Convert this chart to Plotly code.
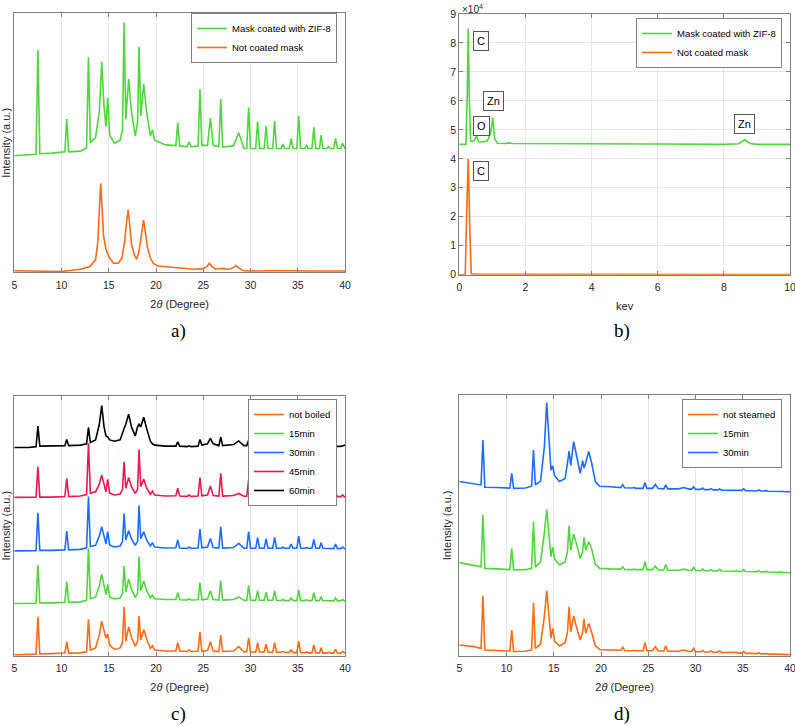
import plotly.graph_objects as go

# ---------------- data ----------------
# shared 2-theta sampling (degrees) for the ZIF-8 XRD patterns
TWO_THETA = [
    5.0, 6.5, 7.3, 7.5, 7.7, 9.0, 10.35, 10.55, 10.75, 12.0,
    12.65, 12.85, 13.05, 13.6, 14.0, 14.25, 14.5, 14.7, 14.88, 15.1,
    15.6, 16.2, 16.45, 16.62, 16.8, 17.1, 17.4, 17.8, 18.05, 18.2,
    18.38, 18.7, 19.0, 19.4, 19.62, 19.85, 21.0, 22.1, 22.3, 22.5,
    23.3, 23.5, 23.7, 24.45, 24.65, 24.85, 25.45, 25.75, 26.05, 26.65,
    26.85, 27.05, 28.2, 28.75, 29.3, 29.6, 29.8, 30.0, 30.55, 30.75,
    30.95, 31.45, 31.65, 31.85, 32.35, 32.55, 32.75, 33.25, 33.42, 33.6,
    34.1, 34.3, 34.5, 34.9, 35.1, 35.3, 35.75, 35.92, 36.1, 36.5,
    36.7, 36.9, 37.3, 37.47, 37.65, 38.05, 38.25, 38.45, 38.8, 39.0,
    39.2, 39.55, 39.75, 40.0]

# a) XRD, mask coated with ZIF-8 (offset, a.u.)
A_COATED = [
    45.0, 45.3, 45.6, 85.8, 45.8, 46.0, 46.5, 59.2, 46.5, 46.8,
    48.0, 83.0, 50.0, 52.0, 62.0, 81.3, 64.0, 56.2, 67.4, 53.0,
    49.8, 51.0, 55.0, 96.4, 59.0, 74.6, 62.0, 52.6, 58.0, 87.1,
    60.4, 72.7, 62.0, 52.6, 55.0, 51.0, 49.2, 48.9, 57.8, 48.8,
    48.5, 50.4, 48.5, 48.8, 70.7, 49.0, 49.0, 59.5, 49.0, 48.5,
    66.9, 48.3, 48.8, 53.9, 47.8, 47.8, 63.6, 47.8, 47.8, 58.2,
    47.8, 47.8, 56.6, 47.8, 47.8, 58.4, 47.8, 47.8, 49.5, 47.8,
    47.8, 51.7, 47.8, 47.8, 60.4, 47.8, 47.8, 48.9, 47.8, 47.8,
    56.0, 47.8, 47.8, 53.0, 47.8, 47.8, 48.5, 47.8, 47.8, 51.7,
    47.8, 47.8, 49.8, 47.6]

# a) XRD, not coated mask
A_UNCOATED_2THETA = [
    5, 8, 10, 12, 13, 13.6, 13.85, 14.0, 14.15, 14.3,
    14.45, 14.7, 15.0, 15.5, 16.0, 16.4, 16.7, 16.9, 17.05, 17.2,
    17.4, 17.7, 17.95, 18.2, 18.4, 18.55, 18.68, 18.85, 19.1, 19.4,
    19.7, 20.2, 22, 24, 25.0, 25.4, 25.65, 25.9, 26.3, 27.0,
    27.2, 27.45, 27.9, 28.25, 28.45, 28.7, 29.2, 30, 33, 36, 40]
A_UNCOATED = [
    0.6, 0.4, 0.3, 1.2, 2.2, 4.8, 12.0, 24.0, 34.4, 24.0,
    14.0, 9.0, 6.0, 3.5, 3.5, 5.5, 12.5, 20.0, 24.1, 19.0,
    11.0, 6.7, 5.0, 8.0, 14.0, 18.5, 20.2, 16.0, 9.5, 5.5,
    3.5, 2.4, 1.8, 1.2, 1.4, 2.3, 3.5, 2.3, 1.3, 1.3,
    1.5, 1.2, 1.4, 2.0, 2.6, 1.8, 0.7, 0.5, 0.7, 0.5, 0.5]

# b) EDS spectra (counts)
EDS_KEV_COATED = [0.0, 0.2, 0.24, 0.27, 0.3, 0.34, 0.4, 0.45, 0.52, 0.58,
                  0.7, 0.85, 0.95, 1.01, 1.07, 1.15, 1.4, 1.5, 1.6, 2.0,
                  4.0, 6.0, 8.0, 8.45, 8.63, 8.8, 9.0, 9.4, 9.57, 9.75, 10.0]
EDS_COATED = [45000, 45000, 62000, 85000, 62000, 46200, 46000, 46300, 48000, 45900,
              45800, 46200, 49000, 54200, 47000, 45400, 45300, 45500, 45300, 45300,
              45200, 45100, 45000, 45200, 46600, 45300, 45000, 45000, 45200, 45000, 45000]
EDS_KEV_UNCOATED = [0.0, 0.18, 0.22, 0.27, 0.32, 0.36, 0.5, 1.0, 2.0, 10.0]
EDS_UNCOATED = [0, 0, 20000, 40000, 15000, 300, 200, 150, 100, 50]
EDS_LABELS = ["C", "Zn", "O", "Zn", "C"]
EDS_LABEL_KEV = [0.665, 1.02, 0.665, 8.62, 0.655]
EDS_LABEL_COUNTS = [80800, 60000, 51400, 51900, 35800]

# c) boiling series (offset, a.u.)
C_NOT_BOILED = [
    0.3, 0.4, 0.6, 15.0, 0.7, 0.8, 1.0, 5.4, 1.0, 1.1,
    1.5, 14.0, 2.2, 3.0, 8.0, 13.3, 9.5, 6.7, 8.3, 4.0,
    2.4, 3.0, 5.0, 18.8, 5.5, 11.2, 7.0, 3.7, 5.5, 15.3,
    6.0, 10.1, 6.5, 2.8, 3.8, 2.2, 1.8, 1.8, 5.0, 1.8,
    1.6, 2.2, 1.6, 1.7, 9.2, 1.7, 2.0, 5.4, 1.8, 1.6,
    7.9, 1.6, 1.8, 3.5, 1.5, 1.5, 6.9, 1.5, 1.4, 5.0,
    1.4, 1.4, 4.4, 1.4, 1.3, 5.0, 1.3, 1.3, 1.6, 1.3,
    1.2, 2.2, 1.2, 1.2, 5.6, 1.2, 1.1, 1.5, 1.1, 1.1,
    4.1, 1.1, 1.1, 3.1, 1.0, 1.0, 1.3, 1.0, 1.0, 2.4,
    1.0, 0.9, 1.6, 0.9]
C_15MIN = [
    20.1, 20.1, 20.2, 34.9, 20.3, 20.3, 20.5, 28.5, 20.5, 20.7,
    21.3, 41.3, 22.0, 22.5, 27.0, 31.4, 26.5, 23.5, 27.4, 22.5,
    21.8, 22.2, 24.0, 34.5, 24.5, 29.5, 25.5, 22.4, 24.0, 38.1,
    25.0, 28.8, 25.0, 22.2, 23.3, 21.9, 21.6, 21.6, 24.2, 21.5,
    21.4, 21.9, 21.4, 21.5, 28.1, 21.5, 21.8, 25.0, 21.6, 21.4,
    28.8, 21.4, 21.6, 22.6, 21.3, 21.3, 27.1, 21.3, 21.3, 25.0,
    21.3, 21.3, 24.4, 21.3, 21.3, 25.0, 21.3, 21.2, 21.7, 21.2,
    21.2, 22.2, 21.2, 21.2, 25.3, 21.2, 21.2, 21.5, 21.2, 21.2,
    24.2, 21.2, 21.2, 22.6, 21.2, 21.1, 21.3, 21.1, 21.1, 22.2,
    21.1, 21.1, 21.6, 20.8]
C_30MIN = [
    40.3, 40.3, 40.4, 55.0, 40.5, 40.5, 40.7, 47.9, 40.7, 40.9,
    41.5, 61.2, 42.0, 42.5, 46.0, 49.6, 45.5, 43.0, 47.7, 42.5,
    41.8, 42.2, 44.0, 54.7, 44.5, 48.1, 45.0, 42.4, 44.0, 57.8,
    45.0, 47.7, 44.5, 42.2, 43.5, 41.8, 41.4, 41.5, 44.5, 41.4,
    41.3, 41.8, 41.3, 41.4, 48.7, 41.5, 41.8, 45.1, 41.6, 41.4,
    49.6, 41.4, 41.6, 43.2, 41.3, 41.3, 47.7, 41.3, 41.3, 45.4,
    41.3, 41.3, 44.9, 41.3, 41.3, 45.5, 41.3, 41.3, 41.8, 41.3,
    41.3, 42.9, 41.3, 41.3, 46.0, 41.3, 41.3, 41.6, 41.3, 41.3,
    44.7, 41.3, 41.3, 43.5, 41.3, 41.2, 41.4, 41.2, 41.2, 42.9,
    41.2, 41.2, 41.8, 41.0]
C_45MIN = [
    60.9, 60.9, 61.0, 72.7, 61.0, 61.0, 61.2, 68.2, 61.2, 61.4,
    62.0, 81.7, 62.5, 63.0, 66.0, 69.5, 65.5, 63.0, 67.8, 62.5,
    61.8, 62.2, 64.0, 74.6, 64.4, 68.5, 65.0, 62.4, 64.0, 79.4,
    65.0, 67.9, 64.5, 62.0, 63.3, 61.8, 61.4, 61.5, 64.4, 61.4,
    61.3, 61.8, 61.3, 61.4, 68.5, 61.5, 61.8, 65.3, 61.6, 61.4,
    70.1, 61.4, 61.6, 62.4, 61.3, 61.3, 67.6, 61.3, 61.3, 65.4,
    61.3, 61.3, 64.6, 61.3, 61.3, 65.4, 61.3, 61.3, 61.8, 61.3,
    61.3, 62.7, 61.3, 61.3, 65.9, 61.3, 61.3, 61.6, 61.3, 61.3,
    64.4, 61.3, 61.3, 62.8, 61.3, 61.2, 61.4, 61.2, 61.2, 62.7,
    61.2, 61.2, 61.8, 60.9]
C_60MIN = [
    80.1, 80.1, 80.4, 88.3, 80.6, 80.6, 80.8, 83.2, 80.8, 81.0,
    81.5, 87.8, 82.0, 83.0, 89.0, 96.2, 88.0, 84.5, 84.2, 83.0,
    82.5, 83.0, 86.0, 87.4, 89.0, 92.9, 88.0, 84.5, 88.0, 89.0,
    88.0, 91.7, 87.5, 82.5, 81.5, 81.0, 80.6, 80.6, 82.3, 80.6,
    80.4, 80.7, 80.4, 80.6, 83.2, 81.0, 81.5, 83.6, 81.5, 80.8,
    84.0, 80.8, 81.2, 82.6, 80.8, 80.8, 82.9, 80.8, 80.6, 82.0,
    80.6, 80.6, 81.5, 80.6, 80.6, 81.5, 80.6, 80.5, 80.7, 80.5,
    80.5, 81.0, 80.5, 80.5, 81.8, 80.5, 80.5, 80.6, 80.5, 80.5,
    81.3, 80.5, 80.5, 80.9, 80.5, 80.5, 80.6, 80.5, 80.5, 80.9,
    80.5, 80.5, 80.8, 81.0]

# d) steaming series (offset, a.u.)
D_NOT_STEAMED = [
    4.1, 3.5, 2.8, 22.9, 2.2, 2.0, 1.8, 9.8, 1.6, 1.7,
    2.2, 20.3, 2.8, 4.5, 15.0, 24.9, 14.0, 6.6, 10.5, 5.5,
    3.7, 5.0, 9.0, 18.8, 9.2, 15.3, 11.0, 6.0, 9.0, 14.1,
    8.6, 12.4, 9.0, 3.7, 3.2, 2.4, 2.2, 2.1, 3.2, 2.0,
    1.9, 2.1, 1.9, 1.9, 5.0, 1.9, 1.9, 3.5, 1.8, 1.8,
    3.8, 1.7, 1.7, 2.2, 1.6, 1.6, 2.8, 1.5, 1.5, 2.0,
    1.4, 1.4, 1.8, 1.3, 1.3, 1.9, 1.2, 1.2, 1.3, 1.1,
    1.1, 1.3, 1.0, 1.0, 1.6, 0.9, 0.9, 0.9, 0.8, 0.8,
    1.2, 0.7, 0.7, 0.9, 0.6, 0.6, 0.6, 0.5, 0.5, 0.7,
    0.5, 0.4, 0.5, 0.4]
D_15MIN = [
    35.7, 34.8, 34.1, 54.0, 33.5, 33.3, 33.0, 41.2, 32.9, 33.0,
    33.5, 51.4, 34.0, 36.0, 47.0, 56.1, 46.0, 38.0, 41.6, 37.0,
    34.8, 36.0, 40.0, 49.9, 40.5, 46.7, 43.0, 37.3, 40.0, 45.4,
    40.5, 43.7, 41.0, 35.0, 34.4, 33.5, 33.3, 33.2, 34.1, 33.1,
    33.0, 33.2, 33.0, 33.0, 36.1, 33.0, 33.0, 34.4, 32.9, 32.9,
    35.0, 32.8, 32.8, 33.2, 32.7, 32.7, 33.9, 32.7, 32.6, 33.2,
    32.6, 32.6, 33.0, 32.5, 32.5, 33.1, 32.5, 32.4, 32.5, 32.4,
    32.4, 32.6, 32.3, 32.3, 33.0, 32.3, 32.2, 32.3, 32.2, 32.2,
    32.6, 32.1, 32.1, 32.4, 32.1, 32.0, 32.0, 32.0, 32.0, 32.2,
    31.9, 31.9, 31.9, 31.8]
D_30MIN = [
    66.8, 66.0, 65.5, 82.7, 64.6, 64.5, 64.3, 69.9, 64.2, 64.3,
    65.0, 78.9, 65.5, 67.0, 80.0, 97.1, 80.0, 71.2, 72.8, 69.0,
    66.8, 68.0, 74.0, 78.5, 73.0, 82.1, 77.0, 69.9, 74.8, 72.0,
    74.0, 78.3, 74.0, 66.8, 65.9, 65.0, 64.8, 64.5, 65.6, 64.4,
    64.3, 64.5, 64.2, 64.2, 66.4, 64.2, 64.2, 65.7, 64.1, 64.0,
    65.5, 64.0, 64.0, 64.5, 63.9, 63.9, 64.8, 63.8, 63.8, 64.3,
    63.7, 63.7, 64.1, 63.6, 63.6, 64.0, 63.5, 63.5, 63.6, 63.5,
    63.4, 63.6, 63.4, 63.4, 64.0, 63.3, 63.3, 63.3, 63.3, 63.2,
    63.6, 63.2, 63.2, 63.4, 63.1, 63.1, 63.1, 63.0, 63.0, 63.2,
    63.0, 62.9, 63.0, 62.9]

for arr in (A_COATED, C_NOT_BOILED, C_15MIN, C_30MIN, C_45MIN, C_60MIN,
            D_NOT_STEAMED, D_15MIN, D_30MIN):
    assert len(arr) == len(TWO_THETA)
assert len(A_UNCOATED) == len(A_UNCOATED_2THETA)
assert len(EDS_COATED) == len(EDS_KEV_COATED)

XRD_TICKS = [5, 10, 15, 20, 25, 30, 35, 40]
EDS_XTICKS = [0, 2, 4, 6, 8, 10]
EDS_YTICKS = [0, 10000, 20000, 30000, 40000, 50000, 60000, 70000, 80000, 90000]
EDS_YTICKTEXT = ["0", "1", "2", "3", "4", "5", "6", "7", "8", "9"]

# ---------------- style ----------------
GREEN = "#4fd63c"
ORANGE = "#ff6a14"
BLUE = "#1c6dff"
RED = "#e8194f"
BLACK = "#000000"
FONT = "Liberation Sans, Arial, sans-serif"
TXT = "#262626"
FRAME = "#7f7f7f"
GRID = "#e6e6e6"
LW = 1.6
W, H = 795, 726

fig = go.Figure()

def line(x, y, name, color, xa, ya, legend):
    fig.add_trace(go.Scatter(x=x, y=y, mode="lines", name=name,
                             line=dict(color=color, width=LW),
                             xaxis=xa, yaxis=ya, legend=legend,
                             hoverinfo="skip"))

# a)
line(TWO_THETA, A_COATED, "Mask coated with ZIF-8", GREEN, "x", "y", "legend")
line(A_UNCOATED_2THETA, A_UNCOATED, "Not coated mask", ORANGE, "x", "y", "legend")
# b)
line(EDS_KEV_COATED, EDS_COATED, "Mask coated with ZIF-8", GREEN, "x2", "y2", "legend2")
line(EDS_KEV_UNCOATED, EDS_UNCOATED, "Not coated mask", ORANGE, "x2", "y2", "legend2")
# c)
for arr, nm, col in [(C_NOT_BOILED, "not boiled", ORANGE), (C_15MIN, "15min", GREEN),
                     (C_30MIN, "30min", BLUE), (C_45MIN, "45min", RED),
                     (C_60MIN, "60min", BLACK)]:
    line(TWO_THETA, arr, nm, col, "x3", "y3", "legend3")
# d)
for arr, nm, col in [(D_NOT_STEAMED, "not steamed", ORANGE), (D_15MIN, "15min", GREEN),
                     (D_30MIN, "30min", BLUE)]:
    line(TWO_THETA, arr, nm, col, "x4", "y4", "legend4")


def px_x(p):
    return p / W


def px_y(p):
    return 1 - p / H


XL = [px_x(14.3), px_x(345)]
XR = [px_x(459.3), px_x(790)]
YT_A = [px_y(272.3), px_y(13.3)]
YT_B = [px_y(274.7), px_y(14)]
YB = [px_y(655.7), px_y(395.7)]
YB_D = [px_y(655.7), px_y(395.0)]

tickfont = dict(family=FONT, size=10.5, color=TXT)
titlefont = dict(family=FONT, size=11, color=TXT)


def xaxis(domain, anchor, rng, ticks, title):
    return dict(domain=domain, anchor=anchor, range=rng, tickvals=ticks,
                ticks="inside", ticklen=4, tickcolor=FRAME, tickwidth=1,
                showline=True, linecolor=FRAME, linewidth=1, mirror="ticks",
                showgrid=True, gridcolor=GRID, gridwidth=1, zeroline=False,
                tickfont=tickfont, fixedrange=True, automargin=False,
                ticklabelstandoff=3, ticklabeloverflow="allow",
                title=dict(text=title, font=titlefont, standoff=10))


def yaxis_xrd(domain, anchor, title):
    return dict(domain=domain, anchor=anchor, range=[0, 100],
                showticklabels=False, ticks="", showgrid=False,
                showline=True, linecolor=FRAME, linewidth=1, mirror=True,
                zeroline=False, fixedrange=True, automargin=False,
                title=dict(text=title, font=titlefont, standoff=4))


fig.update_layout(
    width=W, height=H,
    margin=dict(l=0, r=0, t=0, b=0, autoexpand=False),
    paper_bgcolor="white", plot_bgcolor="white",
    font=dict(family=FONT, color=TXT),
    xaxis=xaxis(XL, "y", [5, 40], XRD_TICKS, "2<i>θ</i> (Degree)"),
    yaxis=yaxis_xrd(YT_A, "x", "Intensity (a.u.)"),
    xaxis2=xaxis(XR, "y2", [0, 10], EDS_XTICKS, "kev"),
    yaxis2=dict(domain=YT_B, anchor="x2", range=[0, 90000],
                tickvals=EDS_YTICKS, ticktext=EDS_YTICKTEXT,
                ticks="inside", ticklen=4, tickcolor=FRAME,
                showline=True, linecolor=FRAME, linewidth=1, mirror="ticks",
                showgrid=True, gridcolor=GRID, zeroline=False,
                tickfont=tickfont, fixedrange=True, automargin=False),
    xaxis3=xaxis(XL, "y3", [5, 40], XRD_TICKS, "2<i>θ</i> (Degree)"),
    yaxis3=yaxis_xrd(YB, "x3", "Intensity (a.u.)"),
    xaxis4=xaxis(XR, "y4", [5, 40], XRD_TICKS, "2<i>θ</i> (Degree)"),
    yaxis4=yaxis_xrd(YB_D, "x4", "Intensity (a.u.)"),
    showlegend=True,
)

leg_common = dict(bgcolor="white", bordercolor=FRAME, borderwidth=1,
                  font=dict(family=FONT, size=9.5, color="#000000"),
                  xanchor="right", yanchor="top", itemwidth=30,
                  tracegroupgap=0)
fig.update_layout(
    legend=dict(x=px_x(337), y=px_y(13), **leg_common),
    legend2=dict(x=px_x(782), y=px_y(18), **leg_common),
    legend3=dict(x=px_x(337), y=px_y(399), **leg_common),
    legend4=dict(x=px_x(782), y=px_y(399), **leg_common),
)

annotations = []
for txt, kx, ky in zip(EDS_LABELS, EDS_LABEL_KEV, EDS_LABEL_COUNTS):
    annotations.append(dict(x=kx, y=ky, xref="x2", yref="y2", text=txt,
                            showarrow=False, font=dict(family=FONT, size=11, color="#000000"),
                            bgcolor="white", bordercolor="#555555", borderwidth=1,
                            borderpad=3))
annotations.append(dict(x=px_x(460), y=px_y(1), xref="paper", yref="paper",
                        text="×10<sup>4</sup>", showarrow=False, xanchor="left",
                        yanchor="top", font=dict(family=FONT, size=10, color=TXT)))
for lab, cx, cy in [("a)", 178, 331), ("b)", 622, 331), ("c)", 178, 714), ("d)", 622, 714)]:
    annotations.append(dict(x=px_x(cx), y=px_y(cy), xref="paper", yref="paper",
                            text=lab, showarrow=False, xanchor="center", yanchor="middle",
                            font=dict(family="Liberation Serif, DejaVu Serif, serif",
                                      size=19, color="#000000")))
fig.update_layout(annotations=annotations)

# the page's default 8px body margin would shift the figure; remove it
fig.write_html("out.html", config={"displayModeBar": False},
               post_script="document.body.style.margin='0px';")
